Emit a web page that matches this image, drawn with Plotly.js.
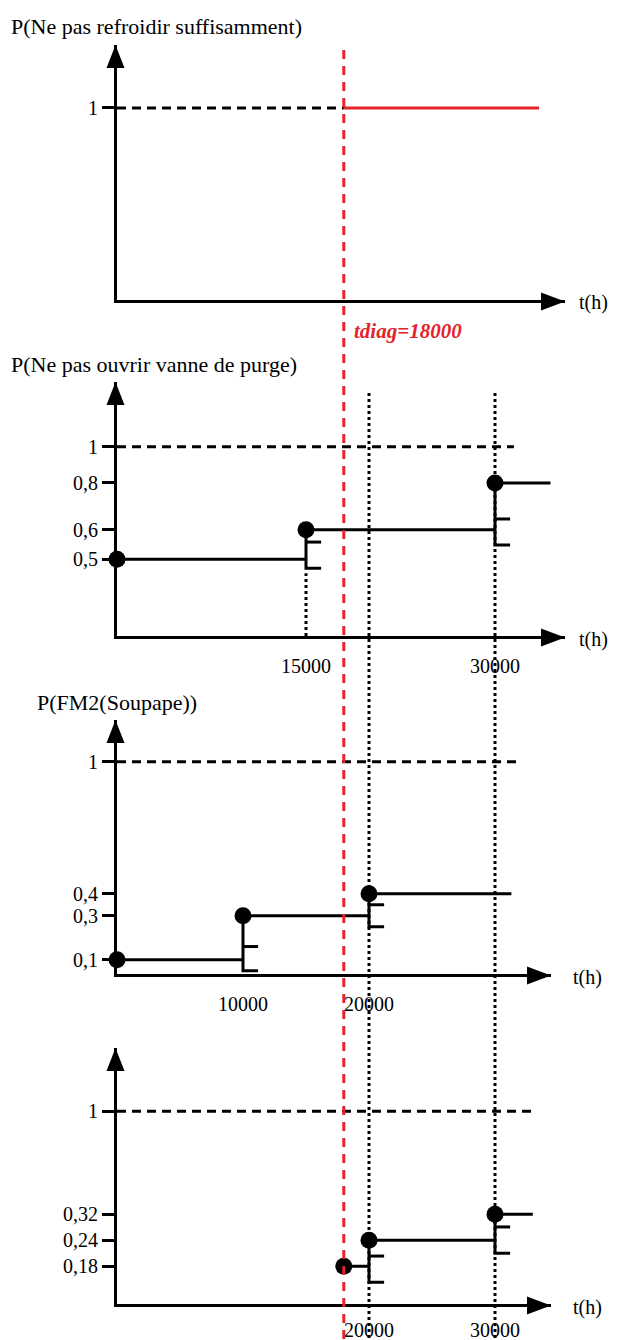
<!DOCTYPE html>
<html>
<head>
<meta charset="utf-8">
<script src="https://cdn.plot.ly/plotly-3.0.1.min.js"></script>
<style>html,body{margin:0;padding:0;background:#fff;}</style>
</head>
<body>
<div id="chart" style="width:619px;height:1340px;"></div>
<script>
// ---------------- DATA ----------------
const tDiag = 18000;                       // diagnosis time (h)
const tDiagLabel = 'tdiag=18000';
const timeMarks = [20000, 30000];          // dotted verticals through panels 2-4

// Panel 1 : P(Ne pas refroidir suffisamment)
const title1 = 'P(Ne pas refroidir suffisamment)';
const level1 = 1;
const end1 = 33500;
const yTicks1 = [1];

// Panel 2 : P(Ne pas ouvrir vanne de purge)
const title2 = 'P(Ne pas ouvrir vanne de purge)';
const times2 = [0, 15000, 30000];
const probs2 = [0.5, 0.6, 0.8];
const upper2 = [null, 0.556, 0.641];
const lower2 = [null, 0.473, 0.546];
const end2 = 34400;
const refEnd2 = 31500;
const yTicks2 = [0.5, 0.6, 0.8, 1];
const xTicks2 = [15000, 30000];

// Panel 3 : P(FM2(Soupape))
const title3 = 'P(FM2(Soupape))';
const times3 = [0, 10000, 20000];
const probs3 = [0.1, 0.3, 0.4];
const upper3 = [null, 0.16, 0.35];
const lower3 = [null, 0.05, 0.25];
const end3 = 31300;
const refEnd3 = 31700;
const yTicks3 = [0.1, 0.3, 0.4, 1];
const xTicks3 = [10000, 20000];

// Panel 4
const times4 = [18000, 20000, 30000];
const probs4 = [0.18, 0.24, 0.32];
const upper4 = [null, 0.2015, 0.278];
const lower4 = [null, 0.151, 0.208];
const end4 = 33000;
const refEnd4 = 33000;
const yTicks4 = [0.18, 0.24, 0.32, 1];
const xTicks4 = [20000, 30000];

// ---------------- LAYOUT HELPERS ----------------
const W = 619, H = 1340;
const FONT = 'Liberation Serif, Times New Roman, serif';
const PX_PER_H = 12.6 / 1000;              // horizontal scale (px per hour)
const px = v => v / W;
const py = v => 1 - v / H;
const fmt = v => String(v).replace('.', ',');
const BLACK = '#000000', RED = '#e4232b';

// panel geometry: [axisLeftPx, arrowTipXPx, axisBottomPx, arrowTipYPx, t(h) offset, x label standoff]
const geo = [
  [117, 565, 300, 45, 12, 10],
  [117, 565, 636, 382, 12, 10],
  [117, 551, 974, 720, 20, 10],
  [117, 551, 1304, 1048, 20, 6]
];
const yTypes = ['linear', 'log', 'linear', 'log'];
const yRanges = [[0, 1.328], [-0.506, 0.173], [0.0352, 1.19], [-0.926, 0.3035]];
const yTickSets = [yTicks1, yTicks2, yTicks3, yTicks4];
const xTickSets = [[], xTicks2, xTicks3, xTicks4];

const layout = {
  width: W, height: H,
  margin: {l: 0, r: 0, t: 0, b: 0},
  paper_bgcolor: '#ffffff', plot_bgcolor: 'rgba(0,0,0,0)',
  showlegend: false,
  font: {family: FONT, color: BLACK, size: 20},
  shapes: [], annotations: []
};

geo.forEach((g, i) => {
  const n = i + 1;
  const xs = n === 1 ? '' : n;
  const ys = n === 1 ? '' : n;
  layout['xaxis' + xs] = {
    domain: [px(g[0]), px(g[1])],
    range: [0, (g[1] - g[0]) / PX_PER_H],
    anchor: 'y' + ys,
    showline: true, linewidth: 3, linecolor: BLACK,
    showgrid: false, zeroline: false,
    ticks: '', tickmode: 'array',
    tickvals: xTickSets[i], ticktext: xTickSets[i].map(String),
    showticklabels: xTickSets[i].length > 0,
    ticklabelstandoff: g[5],
    tickfont: {family: FONT, size: 20, color: BLACK},
    fixedrange: true
  };
  const yCommon = {
    domain: [py(g[2]), py(g[3])],
    type: yTypes[i], range: yRanges[i],
    showgrid: false, zeroline: false,
    tickmode: 'array', tickvals: yTickSets[i],
    tickcolor: BLACK, tickwidth: 3,
    fixedrange: true
  };
  layout['yaxis' + ys] = Object.assign({}, yCommon, {
    anchor: 'x' + xs,
    showline: true, linewidth: 3, linecolor: BLACK,
    ticks: 'outside', ticklen: 12,
    ticktext: yTickSets[i].map(fmt),
    tickfont: {family: FONT, size: 20, color: BLACK}
  });
  // overlay axis to make the ticks cross the axis line
  layout['yaxis' + (n + 4)] = Object.assign({}, yCommon, {
    overlaying: 'y' + ys, anchor: 'x' + xs, side: 'left',
    showline: false, ticks: 'inside', ticklen: 15, showticklabels: false
  });
  // arrow heads
  const tipX = g[1], axY = g[2] + 1.5;
  layout.shapes.push({type: 'path', xref: 'paper', yref: 'paper', layer: 'above',
    path: `M${px(tipX)},${py(axY)} L${px(tipX - 24)},${py(axY - 9)} L${px(tipX - 24)},${py(axY + 9)} Z`,
    fillcolor: BLACK, line: {width: 0}});
  const axX = g[0] - 1.5, tipY = g[3];
  layout.shapes.push({type: 'path', xref: 'paper', yref: 'paper', layer: 'above',
    path: `M${px(axX)},${py(tipY)} L${px(axX - 9)},${py(tipY + 23)} L${px(axX + 9)},${py(tipY + 23)} Z`,
    fillcolor: BLACK, line: {width: 0}});
  // t(h) labels
  layout.annotations.push({xref: 'paper', yref: 'paper', x: px(g[1] + g[4]), y: py(g[2] + 3),
    xanchor: 'left', yanchor: 'middle', text: 't(h)', showarrow: false,
    font: {family: FONT, size: 20, color: BLACK}});
});

// titles
[[title1, 9, 27], [title2, 9, 365], [title3, 35, 702]].forEach(t => {
  layout.annotations.push({xref: 'paper', yref: 'paper', x: px(t[1]), y: py(t[2]),
    xanchor: 'left', yanchor: 'middle', text: t[0], showarrow: false,
    font: {family: FONT, size: 22, color: BLACK}});
});

// tdiag label
layout.annotations.push({xref: 'x', yref: 'paper', x: tDiag, xshift: 8, y: py(331),
  xanchor: 'left', yanchor: 'middle', text: '<b><i>' + tDiagLabel + '</i></b>', showarrow: false,
  font: {family: FONT, size: 21, color: RED}});

// dotted time marks across panels 2-4
timeMarks.forEach(t => {
  layout.shapes.push({type: 'line', xref: 'x', yref: 'paper', x0: t, x1: t,
    y0: py(393), y1: py(1338), layer: 'below',
    line: {color: BLACK, width: 3, dash: '3px,3px'}});
});
// red tdiag line
layout.shapes.push({type: 'line', xref: 'x', yref: 'paper', x0: tDiag, x1: tDiag,
  y0: py(50), y1: py(1340), layer: 'above',
  line: {color: RED, width: 3, dash: '9px,7px'}});

// ---------------- TRACES ----------------
const traces = [];
const BRACKET = 1200; // horizontal length of bracket ticks (h)

function stepPanel(times, probs, upper, lower, end, refEnd, xa, ya) {
  // reference line at 1
  traces.push({x: [0, refEnd], y: [1, 1], xaxis: xa, yaxis: ya, mode: 'lines',
    line: {color: BLACK, width: 3, dash: '9px,6px'}, hoverinfo: 'skip'});
  // horizontal steps
  const sx = [], sy = [];
  times.forEach((t, i) => {
    const tn = i < times.length - 1 ? times[i + 1] : end;
    sx.push(t, tn, null); sy.push(probs[i], probs[i], null);
  });
  traces.push({x: sx, y: sy, xaxis: xa, yaxis: ya, mode: 'lines',
    line: {color: BLACK, width: 3}, hoverinfo: 'skip'});
  // brackets
  const bx = [], by = [];
  times.forEach((t, i) => {
    if (upper[i] == null) return;
    bx.push(t, t, t + BRACKET, null, t, t + BRACKET, null);
    by.push(probs[i], lower[i], lower[i], null, upper[i], upper[i], null);
  });
  traces.push({x: bx, y: by, xaxis: xa, yaxis: ya, mode: 'lines',
    line: {color: BLACK, width: 3}, hoverinfo: 'skip'});
  // dots
  traces.push({x: times, y: probs, xaxis: xa, yaxis: ya, mode: 'markers',
    marker: {color: BLACK, size: 17}, cliponaxis: false, hoverinfo: 'skip'});
}

// Panel 1
traces.push({x: [0, tDiag], y: [level1, level1], xaxis: 'x', yaxis: 'y', mode: 'lines',
  line: {color: BLACK, width: 3, dash: '9px,6px'}, hoverinfo: 'skip'});
traces.push({x: [tDiag, end1], y: [level1, level1], xaxis: 'x', yaxis: 'y', mode: 'lines',
  line: {color: RED, width: 3}, hoverinfo: 'skip'});

stepPanel(times2, probs2, upper2, lower2, end2, refEnd2, 'x2', 'y2');
// dotted drop from first step of panel 2 to the time axis
traces.push({x: [times2[1], times2[1]], y: [Math.pow(10, yRanges[1][0]), lower2[1] * 0.97],
  xaxis: 'x2', yaxis: 'y2', mode: 'lines',
  line: {color: BLACK, width: 3, dash: '3px,3px'}, hoverinfo: 'skip'});
stepPanel(times3, probs3, upper3, lower3, end3, refEnd3, 'x3', 'y3');
stepPanel(times4, probs4, upper4, lower4, end4, refEnd4, 'x4', 'y4');

Plotly.newPlot('chart', traces, layout, {staticPlot: true, displayModeBar: false});
</script>
</body>
</html>
